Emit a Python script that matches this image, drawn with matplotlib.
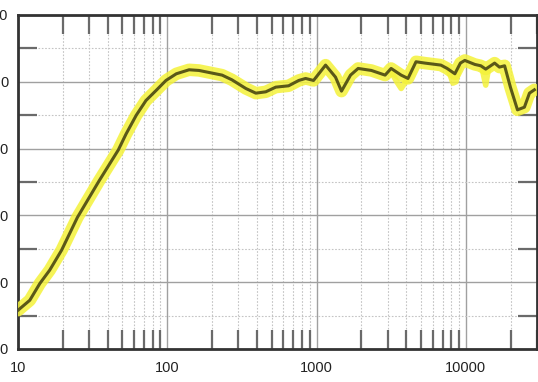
import matplotlib
matplotlib.use("Agg")
import matplotlib.pyplot as plt
import numpy as np
from matplotlib.ticker import FixedLocator, LogLocator, NullFormatter

# frequency response, Hz / dB
freq_hz = [10, 12, 14, 16.3, 19.6, 25, 35, 47, 53, 62, 72, 85, 98, 115, 140, 163,
           200, 233, 271, 336, 392, 457, 533, 650, 760, 845, 955, 1150, 1340,
           1470, 1690, 1900, 2330, 2880, 3160, 3690, 4100, 4640, 5330, 6810,
           7500, 8450, 9200, 9850, 11500, 12600, 13600, 15600, 16800, 18200,
           19900, 22200, 24700, 26700, 28800]
level_db = [-34.2, -32.7, -30.2, -28.2, -25.2, -20.3, -14.8, -10.2, -7.8, -5.0,
            -2.8, -1.2, 0.2, 1.2, 1.8, 1.7, 1.3, 1.0, 0.3, -1.0, -1.7, -1.5,
            -0.8, -0.6, 0.2, 0.5, 0.2, 2.5, 0.7, -1.4, 1.0, 2.0, 1.7, 1.0, 2.0,
            1.0, 0.5, 3.0, 2.8, 2.5, 2.0, 1.2, 2.8, 3.2, 2.6, 2.4, 1.9, 2.8,
            2.2, 2.4, -0.8, -4.2, -3.8, -1.7, -1.2]

# extra spread of the measurement band (dips below main trace)
spread_hz = [3160, 3450, 3690, 3950, 4300]
spread_db = [1.5, 0.0, -1.0, 0.0, 1.5]
spread2_hz = [7600, 8200, 8600, 9000]
spread2_db = [2.0, -0.2, 0.0, 2.0]
spread3_hz = [12800, 13600, 14200]
spread3_db = [2.2, -0.5, 2.0]

x_ticks = [10, 100, 1000, 10000]
x_labels = ["10", "100", "1000", "10000"]
y_ticks = [10, 0, -10, -20, -30, -40]
y_labels = ["10", "0", "-10", "-20", "-30", "-40"]
y_minor = [5, -5, -15, -25, -35]

plt.rcParams["font.family"] = ["Liberation Sans", "DejaVu Sans"]

fig = plt.figure(figsize=(5.38, 3.82), dpi=100)
ax = fig.add_axes([18 / 538, 33 / 382, 519 / 538, 334 / 382])

yellow = "#f4f23a"
ax.plot(freq_hz, level_db, color=yellow, lw=9, alpha=0.85,
        solid_capstyle="round", solid_joinstyle="round", zorder=3)
for hz, db in [(spread_hz, spread_db), (spread2_hz, spread2_db), (spread3_hz, spread3_db)]:
    ax.plot(hz, db, color=yellow, lw=4, alpha=0.85, zorder=3)
ax.plot(freq_hz, level_db, color="#5a5818", lw=2.2,
        solid_joinstyle="round", zorder=4)

ax.set_xscale("log")
ax.set_xlim(10, 30000)
ax.set_ylim(-40, 10)

ax.xaxis.set_major_locator(FixedLocator(x_ticks))
ax.set_xticklabels(x_labels)
ax.xaxis.set_minor_locator(LogLocator(base=10, subs=np.arange(2, 10)))
ax.xaxis.set_minor_formatter(NullFormatter())
ax.yaxis.set_major_locator(FixedLocator(y_ticks))
ax.set_yticklabels(y_labels)
ax.yaxis.set_minor_locator(FixedLocator(y_minor))

ax.grid(which="major", color="#a0a0a0", lw=1.0, ls="-", zorder=1)
ax.grid(which="minor", color="#c4c4c4", lw=0.8, ls=(0, (1.5, 1.5)), zorder=1)

ax.tick_params(which="major", length=0, labelsize=10.5, colors="#222222")
ax.tick_params(axis="x", which="major", pad=9)
ax.tick_params(axis="y", which="major", pad=7)
ax.tick_params(which="minor", direction="in", length=14, width=1.6,
               color="#6a6a6a", top=True, right=True)

for sp in ax.spines.values():
    sp.set_color("#333333")
    sp.set_linewidth(2)

fig.savefig("out.png", dpi=100)
